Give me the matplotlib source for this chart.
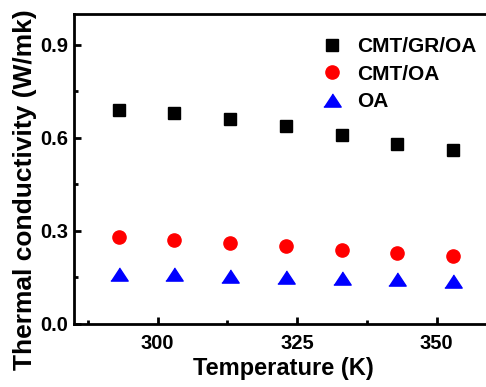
import numpy as np
from matplotlib import pyplot as plt

plt.rcParams['font.family'] = 'Liberation Sans'
plt.rcParams['font.weight'] = 'bold'

# temperatures (K) and thermal conductivity (W/mk)
temperature = [293, 303, 313, 323, 333, 343, 353]
cmt_gr_oa = [0.69, 0.68, 0.66, 0.64, 0.61, 0.58, 0.56]
cmt_oa = [0.28, 0.27, 0.26, 0.25, 0.24, 0.23, 0.22]
oa = [0.16, 0.16, 0.155, 0.15, 0.148, 0.145, 0.14]

# wide, flat triangle like the original
tri = [(-1, -0.76), (1, -0.76), (0, 0.76)]

fig = plt.figure(figsize=(4.86, 3.87), dpi=100)
ax = fig.add_axes([0.152, 0.163, 0.861, 0.801])

ax.plot(temperature, cmt_gr_oa, 's', color='black', markersize=8, label='CMT/GR/OA')
ax.plot(temperature, cmt_oa, 'o', color='red', markersize=9.5, label='CMT/OA')
ax.plot(temperature, oa, marker=tri, linestyle='none', color='blue', markersize=12.5, label='OA')

ax.set_xlim(285, 360)
ax.set_ylim(0, 1.0)
ax.set_xticks([300, 325, 350])
ax.set_xticks(np.arange(287.5, 360, 12.5), minor=True)
ax.set_yticks([0.0, 0.3, 0.6, 0.9])
ax.set_yticks([0.15, 0.45, 0.75], minor=True)
ax.set_yticklabels(['0.0', '0.3', '0.6', '0.9'])

for s in ax.spines.values():
    s.set_linewidth(2)
ax.tick_params(which='major', direction='in', length=5, width=2, labelsize=14.5)
ax.tick_params(axis='x', which='major', pad=7)
ax.tick_params(axis='y', which='major', pad=4)
ax.tick_params(which='minor', direction='in', length=3, width=2)

ax.set_xlabel('Temperature (K)', fontsize=17, fontweight='bold', labelpad=3)
ax.set_ylabel('Thermal conductivity (W/mk)', fontsize=19, fontweight='bold')
ax.yaxis.set_label_coords(-0.088, 0.432)

ax.legend(loc='upper left', bbox_to_anchor=(0.543, 0.985), frameon=False, fontsize=15,
          handletextpad=0.6, labelspacing=0.4, handlelength=1.2)

fig.savefig('out.png', dpi=100)
